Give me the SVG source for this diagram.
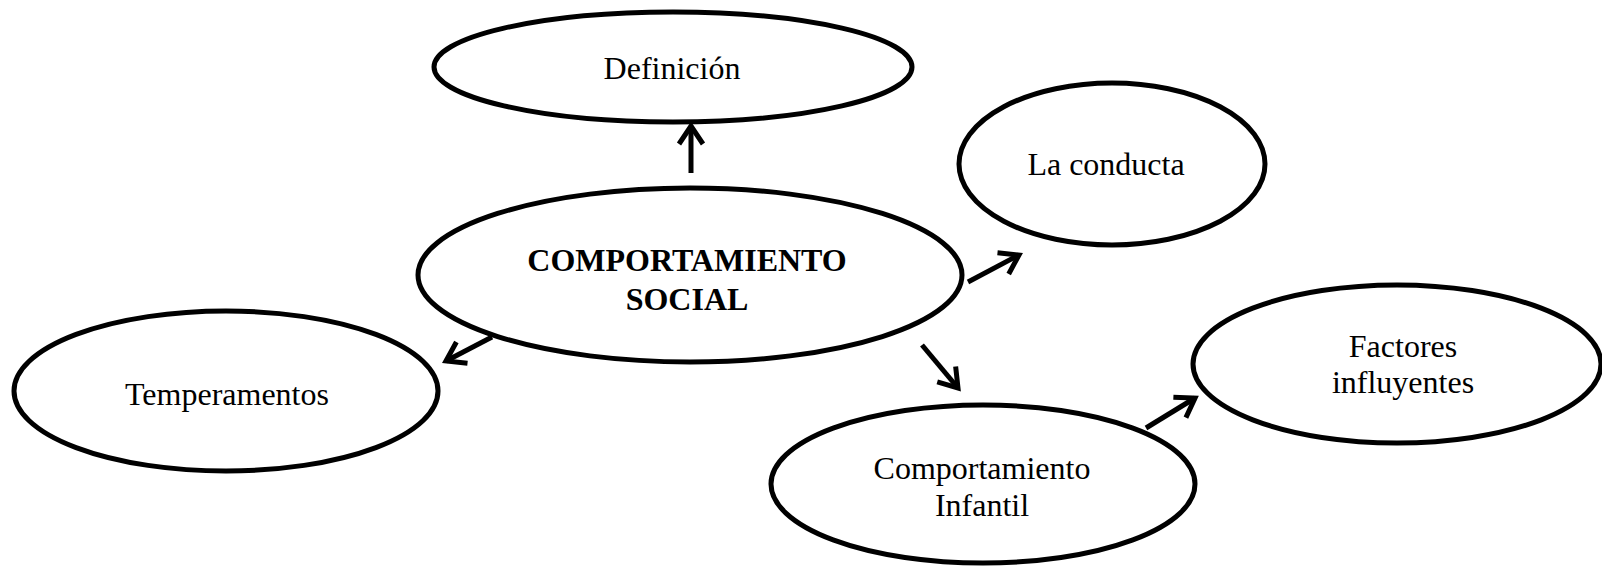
<svg xmlns="http://www.w3.org/2000/svg" width="1602" height="566" viewBox="0 0 1602 566">
<style>
.node ellipse{fill:#fff;stroke:#000;stroke-width:5}
.lbl{font-family:"Liberation Serif","Times New Roman",serif;font-size:32px;fill:#000;text-anchor:middle}
.b{font-weight:bold}
.conn line{stroke:#000;stroke-width:5;fill:none}
</style>
<defs>
<marker id="ah" viewBox="-24 -16 30 32" markerWidth="30" markerHeight="32" refX="0" refY="0" orient="auto" markerUnits="userSpaceOnUse">
<path d="M-18,-12 L0,0 L-18,12" fill="none" stroke="#000" stroke-width="5" stroke-linejoin="miter"/>
</marker>
</defs>
<g id="n-definicion" class="node">
<ellipse cx="673" cy="67" rx="239" ry="55"/>
<text class="lbl" x="672" y="79">Definición</text>
</g>
<g id="n-central" class="node">
<ellipse cx="690" cy="275" rx="272" ry="87"/>
<text class="lbl b" x="687" y="271">COMPORTAMIENTO</text>
<text class="lbl b" x="687" y="310">SOCIAL</text>
</g>
<g id="n-conducta" class="node">
<ellipse cx="1112" cy="164" rx="153" ry="81"/>
<text class="lbl" x="1106" y="175">La conducta</text>
</g>
<g id="n-temperamentos" class="node">
<ellipse cx="226" cy="391" rx="212" ry="80"/>
<text class="lbl" x="227" y="405">Temperamentos</text>
</g>
<g id="n-infantil" class="node">
<ellipse cx="983" cy="484" rx="212" ry="79"/>
<text class="lbl" x="982" y="479">Comportamiento</text>
<text class="lbl" x="982" y="516">Infantil</text>
</g>
<g id="n-factores" class="node">
<ellipse cx="1397" cy="364" rx="204" ry="79"/>
<text class="lbl" x="1403" y="357">Factores</text>
<text class="lbl" x="1403" y="393">influyentes</text>
</g>
<g id="connectors" class="conn">
<line x1="691" y1="173" x2="691" y2="126" marker-end="url(#ah)"/>
<line x1="968" y1="282" x2="1019" y2="255" marker-end="url(#ah)"/>
<line x1="492" y1="337" x2="446" y2="361" marker-end="url(#ah)"/>
<line x1="922" y1="345" x2="958" y2="388" marker-end="url(#ah)"/>
<line x1="1146" y1="428" x2="1195" y2="398" marker-end="url(#ah)"/>
</g>
</svg>
